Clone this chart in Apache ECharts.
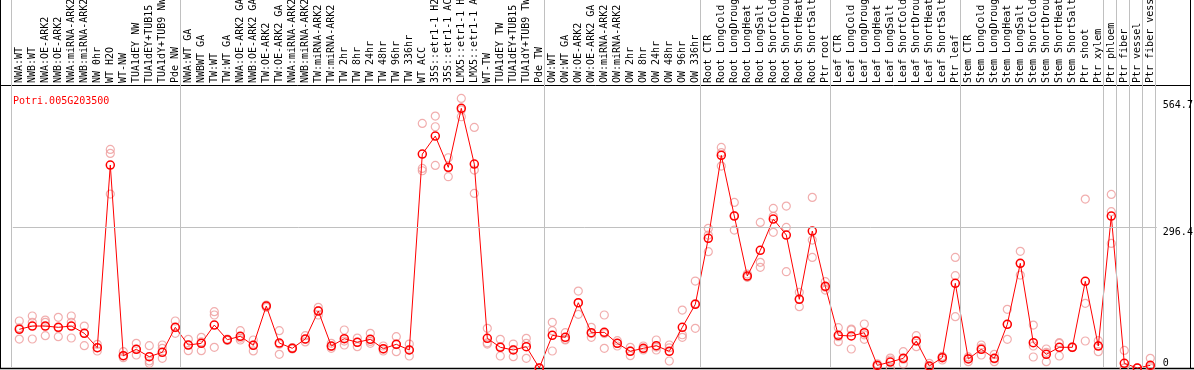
<!DOCTYPE html>
<html><head><meta charset="utf-8">
<script src="https://cdn.jsdelivr.net/npm/echarts@6/dist/echarts.min.js"></script>
<style>html,body{margin:0;padding:0;background:#fff}#c{width:1194px;height:370px}</style>
</head><body><div id="c"></div>
<script>
const title = "Potri.005G203500";
const categories = [
"NWA:WT","NWB:WT","NWA:OE-ARK2","NWB:OE-ARK2","NWA:miRNA-ARK2","NWB:miRNA-ARK2","NW 0hr","WT H2O","WT-NW","TUA1dEY NW","TUA1dEY+TUB15 NW","TUA1dY+TUB9 NW","Pde NW",
"NWA:WT GA","NWBWT GA","TW:WT","TW:WT GA","NWA:OE-ARK2 GA","NWB:OE-ARK2 GA","TW:OE-ARK2","TW:OE-ARK2 GA","NWA:miRNA-ARK2","NWB:miRNA-ARK2","TW:miRNA-ARK2","TW:miRNA-ARK2",
"TW 2hr","TW 8hr","TW 24hr","TW 48hr","TW 96hr","TW 336hr","WT ACC","35S::etr1-1 H2O","35S::etr1-1 ACC","LMX5::etr1-1 H2O","LMX5::etr1-1 ACC","WT-TW","TUA1dEY TW","TUA1dEY+TUB15 TW","TUA1dY+TUB9 TW","Pde TW",
"OW:WT","OW:WT GA","OW:OE-ARK2","OW:OE-ARK2 GA","OW:miRNA-ARK2","OW:miRNA-ARK2","OW 2hr","OW 8hr","OW 24hr","OW 48hr","OW 96hr","OW 336hr",
"Root CTR","Root LongCold","Root LongDrought","Root LongHeat","Root LongSalt","Root ShortCold","Root ShortDrought","Root ShortHeat","Root ShortSalt","Ptr root",
"Leaf CTR","Leaf LongCold","Leaf LongDrought","Leaf LongHeat","Leaf LongSalt","Leaf ShortCold","Leaf ShortDrought","Leaf ShortHeat","Leaf ShortSalt","Ptr leaf",
"Stem CTR","Stem LongCold","Stem LongDrought","Stem LongHeat","Stem LongSalt","Stem ShortCold","Stem ShortDrought","Stem ShortHeat","Stem ShortSalt","Ptr shoot","Ptr xylem",
"Ptr phloem","Ptr fiber","Ptr vessel","Ptr fiber vessel"
];
const means = [
81.5,88.4,88.4,85.7,88.4,73.1,42.7,427.5,25.9,39.4,23.8,33.1,85.7,
48.4,52,90.5,59.6,66.8,47.8,130.6,52.6,41.5,61.1,120,46.3,
61.7,54.1,60.4,40.6,49.9,37.9,450.6,488.5,422.6,546.9,429.6,62.5,43.6,37.9,44.9,0,
68.8,64.6,137.5,74.3,75.2,52,35.2,41.5,47,35.2,85.7,134.1,
273.1,447.9,320.1,193.7,247.8,313.8,280.1,144.7,288.5,172,
68.8,67.4,74.3,5.6,12.6,20.4,56.9,4.2,21.7,178.4,
19,39.4,20.4,92,220.5,53.3,28.8,43.6,43.6,182.6,46.3,
320.1,9.9,0,5.6
];
const rep1 = [
99,109.5,101,106.7,109.5,88.4,49.8,460.5,34.4,51.9,47,48.4,99,
60.4,64.6,118.6,60,78.6,59,132.7,78.6,40,55,127.7,51.9,
80,54,73,35.8,66,50.5,515.2,530.6,442.9,567.8,506.8,83.5,60.4,50.5,62.5,0,
96.2,74.4,162.1,85.6,111.6,57.6,43.5,46.3,59,48.4,122.1,183.2,
294.1,464.7,348.8,197.9,306.7,336.2,341.1,159.3,359.4,181.8,
84.9,80,92.7,5,16.8,34.4,68.1,9.8,23.9,233,
20.4,48.4,28.8,123.5,245.7,90.5,40,53.3,43,355.9,57.6,
365.7,37,0,20.4
];
const rep2 = [
61,96.2,96.2,66,96.2,47,35.8,452,21.8,27.4,9.8,41.4,73,
36.5,36.5,111.6,58,59,48.4,127.7,28.8,43,60,120.7,41.4,
48.4,45,51.9,46.3,34.4,25.3,420.4,508.2,402.9,529.2,417,50.5,25.3,23.9,51.9,0,
78.6,59,113,64.6,41.4,46.3,26,37.9,37.9,14.7,64.6,83.5,
245,425.4,290.6,192,222.5,285.7,296.2,129.1,269.5,164.2,
55.4,40,60.4,3,0,8.4,44.9,2.8,16.8,194.4,
13.3,27.4,13.3,60.4,195.8,46.3,13.3,25.3,44,136.2,34.4,
329.2,0,0,2.8
];
const rep3 = [
84.4,61.1,68.1,85,63.2,73,42.8,366.4,26,39.3,15,20.4,85,
48.4,55,43.5,61,63,36,131,50,41,68,111.6,45.6,
56.7,63,56,39.7,49.3,38,415.5,426.8,422,543.7,367.8,53,45,39,20.4,0,
35.8,60.4,137,72.7,72.6,52,36,40.3,44,42.5,70,135.6,
280,453.6,321,191,212,319.5,202.8,145.7,233,170,
66,82,69.8,9,21,18.4,57.7,0,24.4,108.1,
23.3,42.4,19.1,92,220,23.2,33,52,44,56.9,47,
262.5,0,0,0
];
const yTickValues = [0, 296.4, 564.7];
const groupBreaks = [0, 13, 41, 53, 63, 73, 84, 85, 86, 87, 88];

const FONT = "'DejaVu Sans Mono', monospace";
const reps = [];
[rep1, rep2, rep3].forEach(r => r.forEach((v, i) => reps.push([i, v])));

const chart = echarts.init(document.getElementById('c'), null, {renderer: 'canvas'});
chart.setOption({
  animation: false,
  backgroundColor: '#fff',
  title: {
    text: title, left: 8, top: 91,
    textStyle: {color: '#ff0000', fontFamily: FONT, fontSize: 10, fontWeight: 'normal'}
  },
  grid: [
    {left: 12.8, right: 37.2, top: 86, bottom: 2, containLabel: false, outerBoundsMode: 'none'},
    {left: 10.8, right: 39.2, top: 0, bottom: 2, containLabel: false, outerBoundsMode: 'none'}
  ],
  xAxis: [
    {
      type: 'category', gridIndex: 0, position: 'top', data: categories, boundaryGap: true,
      axisLine: {show: false}, axisTick: {show: false}, splitLine: {show: false},
      axisLabel: {interval: 0, rotate: 90, margin: 3, color: '#000', fontFamily: FONT, fontSize: 10}
    },
    {type: 'value', gridIndex: 1, min: 0, max: 88, show: false}
  ],
  yAxis: [
    {type: 'value', gridIndex: 0, min: 0, max: 594, show: false},
    {type: 'value', gridIndex: 1, min: 0, max: 1, show: false}
  ],
  series: [
    {
      type: 'line', xAxisIndex: 1, yAxisIndex: 1, data: [], silent: true,
      markLine: {
        silent: true, symbol: 'none', label: {show: false},
        lineStyle: {color: '#c0c0c0', width: 1, type: 'solid'},
        data: groupBreaks.map(b => ({xAxis: b}))
      }
    },
    {
      type: 'scatter', xAxisIndex: 0, yAxisIndex: 0, data: reps, clip: false, z: 2,
      symbol: 'circle', symbolSize: 8,
      itemStyle: {color: 'rgba(0,0,0,0)', borderColor: '#ee9a9a', borderWidth: 1.2}
    },
    {
      type: 'line', xAxisIndex: 0, yAxisIndex: 0, data: means, clip: false, z: 3,
      symbol: 'circle', symbolSize: 8, showAllSymbol: true,
      lineStyle: {color: '#ff0000', width: 1},
      itemStyle: {color: 'rgba(0,0,0,0)', borderColor: '#ff0000', borderWidth: 1.5},
      markLine: {
        silent: true, symbol: 'none',
        data: yTickValues.map((v, k) => ({
          yAxis: v,
          lineStyle: k === 1 ? {color: '#c0c0c0', width: 1, type: 'solid'} : {color: 'rgba(0,0,0,0)', width: 0},
          label: {
            show: true, position: 'end', distance: 6, formatter: String(v),
            color: '#000', fontFamily: FONT, fontSize: 10,
            verticalAlign: k === 0 ? 'bottom' : 'top'
          }
        }))
      }
    }
  ],
  graphic: [
    {type: 'line', shape: {x1: 0.5, y1: 0, x2: 0.5, y2: 369}, style: {stroke: '#000', lineWidth: 1}, silent: true},
    {type: 'line', shape: {x1: 1190.5, y1: 0, x2: 1190.5, y2: 369}, style: {stroke: '#000', lineWidth: 1}, silent: true},
    {type: 'line', shape: {x1: 0, y1: 85.5, x2: 1191, y2: 85.5}, style: {stroke: '#000', lineWidth: 1}, silent: true},
    {type: 'line', shape: {x1: 0, y1: 368.5, x2: 1194, y2: 368.5}, style: {stroke: '#000', lineWidth: 1.5}, silent: true}
  ]
});
</script></body></html>
